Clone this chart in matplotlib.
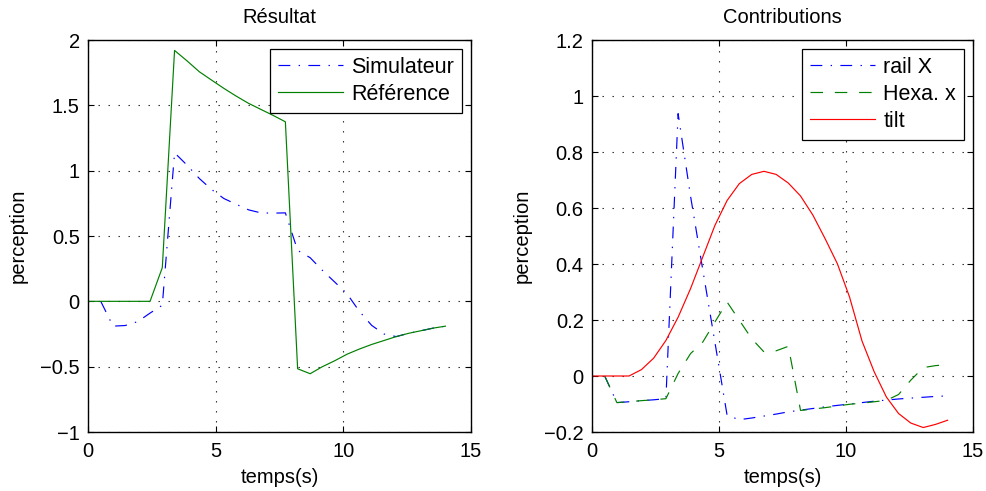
import matplotlib
matplotlib.use("Agg")
import matplotlib.pyplot as plt

plt.rcParams["font.family"] = ["Liberation Sans", "DejaVu Sans"]
plt.rcParams["font.size"] = 14.5
plt.rcParams["lines.scale_dashes"] = False
plt.rcParams["axes.unicode_minus"] = True

# Sample times (s)
temps = [0.0, 0.5, 0.98, 1.46, 1.95, 2.43, 2.91, 3.39, 3.88, 4.36, 4.84, 5.32,
         5.80, 6.29, 6.77, 7.25, 7.73, 8.21, 8.70, 9.18, 9.66, 10.14, 10.63,
         11.11, 11.59, 12.07, 12.55, 13.04, 13.52, 14.0]

# Résultat panel
simulateur = [0, 0, -0.19, -0.185, -0.155, -0.09, -0.03, 1.137, 1.042, 0.94,
              0.856, 0.787, 0.743, 0.70, 0.677, 0.675, 0.677, 0.39, 0.334,
              0.237, 0.148, 0.059, -0.077, -0.184, -0.25, -0.27, -0.245,
              -0.225, -0.205, -0.19]
reference = [0, 0, 0, 0, 0, 0, 0.258, 1.92, 1.84, 1.757, 1.693, 1.63, 1.571,
             1.515, 1.469, 1.423, 1.374, -0.516, -0.554, -0.50, -0.455, -0.405,
             -0.365, -0.33, -0.30, -0.27, -0.245, -0.225, -0.205, -0.19]

# Contributions panel
rail_x = [0, 0, -0.095, -0.092, -0.088, -0.085, -0.081, 0.937, 0.642, 0.380,
          0.120, -0.141, -0.156, -0.150, -0.143, -0.136, -0.128, -0.122,
          -0.116, -0.110, -0.105, -0.100, -0.095, -0.090, -0.086, -0.082,
          -0.079, -0.076, -0.073, -0.071]
hexa_x = [0, 0, -0.095, -0.092, -0.088, -0.085, -0.081, 0.009, 0.08, 0.121,
          0.193, 0.264, 0.199, 0.133, 0.086, 0.09, 0.106, -0.123, -0.118,
          -0.113, -0.107, -0.101, -0.097, -0.092, -0.087, -0.066, -0.015,
          0.03, 0.037, 0.041]
tilt = [0, 0, 0, 0, 0.023, 0.064, 0.127, 0.21, 0.312, 0.425, 0.538, 0.627,
        0.687, 0.72, 0.731, 0.72, 0.689, 0.643, 0.574, 0.49, 0.401, 0.282,
        0.125, 0.015, -0.075, -0.134, -0.168, -0.184, -0.173, -0.158]

x_ticks = [0, 5, 10, 15]
x_ticklabels = ["0", "5", "10", "15"]
left_yticks = [-1, -0.5, 0, 0.5, 1, 1.5, 2]
left_yticklabels = ["\u22121", "\u22120.5", "0", "0.5", "1", "1.5", "2"]
right_yticks = [-0.2, 0, 0.2, 0.4, 0.6, 0.8, 1.0, 1.2]
right_yticklabels = ["\u22120.2", "0", "0.2", "0.4", "0.6", "0.8", "1", "1.2"]

BLUE = (0, 0, 1)
GREEN = (0, 0.5, 0)
RED = (1, 0, 0)
DASHDOT = (0, (8.5, 6, 1, 6))
DASHED = (0, (9, 8.5))
LW = 0.85

fig = plt.figure(figsize=(9.87, 4.91), dpi=100)
ax1 = fig.add_axes([88 / 987, 1 - 432 / 491, 383 / 987, 392 / 491])
ax2 = fig.add_axes([592 / 987, 1 - 432 / 491, 381 / 987, 392 / 491])


def style(ax, yticks, yticklabels, ylim, title):
    ax.set_xlim(0, 15)
    ax.set_ylim(*ylim)
    ax.set_xticks(x_ticks)
    ax.set_xticklabels(x_ticklabels)
    ax.set_yticks(yticks)
    ax.set_yticklabels(yticklabels)
    ax.tick_params(direction="in", top=True, right=True, length=4, width=0.8,
                   pad=6)
    ax.tick_params(axis="x", pad=7)
    ax.grid(True, color="0.15", linestyle=(0, (1, 6.2)), linewidth=0.8)
    for sp in ax.spines.values():
        sp.set_linewidth(1.0)
        sp.set_color("k")
    ax.set_title(title, pad=12, fontsize=14.5)
    ax.set_xlabel("temps(s)", labelpad=5)
    ax.set_ylabel("perception", labelpad=9)


ax1.plot(temps[1:], simulateur[1:], color=BLUE, linestyle=DASHDOT, lw=LW,
         label="Simulateur")
ax1.plot(temps, reference, color=GREEN, linestyle="-", lw=LW,
         label="Référence")
style(ax1, left_yticks, left_yticklabels, (-1, 2), "Résultat")

ax2.plot(temps[1:], rail_x[1:], color=BLUE, linestyle=DASHDOT, lw=LW,
         label="rail X")
ax2.plot(temps[1:], hexa_x[1:], color=GREEN, linestyle=DASHED, lw=LW,
         label="Hexa. x")
ax2.plot(temps, tilt, color=RED, linestyle="-", lw=LW, label="tilt")
style(ax2, right_yticks, right_yticklabels, (-0.2, 1.2), "Contributions")

for ax in (ax1, ax2):
    leg = ax.legend(loc="upper right", fancybox=False, framealpha=1,
                    edgecolor="k", borderaxespad=0.4, handlelength=3.0,
                    handletextpad=0.4, labelspacing=0.28, borderpad=0.38,
                    fontsize=15.5)
    leg.get_frame().set_linewidth(0.9)

fig.savefig("out.png", dpi=100)
